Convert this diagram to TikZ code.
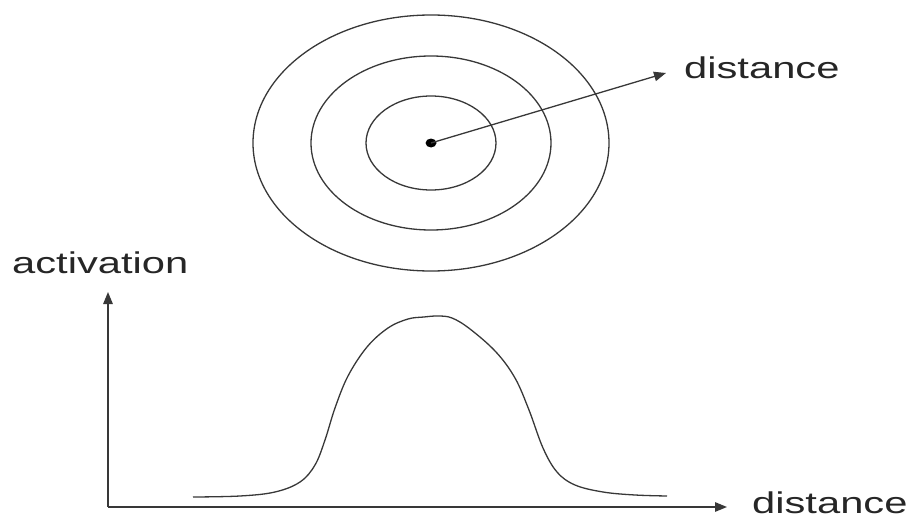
\documentclass[tikz,border=0pt]{standalone}
\usepackage{fontspec}
\newfontfamily\labfont[FakeStretch=1.39]{Liberation Sans}
\usetikzlibrary{arrows.meta}
\begin{document}
\begin{tikzpicture}[x=1pt,y=-1pt,
  ln/.style={line width=1.3pt, draw=black!78},
  arr/.style={ln, -{Triangle[length=12pt,width=9.5pt]}},
  lab/.style={anchor=base west, inner sep=0pt, font=\labfont\fontsize{30}{30}\selectfont, text=black!85}]
\useasboundingbox (0,0) rectangle (914,519);
% rings
\coordinate (c) at (431,143);
\draw[ln] (c) ellipse [x radius=178, y radius=128];
\draw[ln] (c) ellipse [x radius=120, y radius=87];
\draw[ln] (c) ellipse [x radius=65, y radius=47];
\fill[black] (c) circle [x radius=5.5, y radius=4.5];
\coordinate (tip1) at (666,73);
\draw[arr] (c) -- (tip1);
\node[lab] (d1) at (684,79) {distance};
% axes
\coordinate (o) at (108,507);
\coordinate (ytip) at (108,292);
\coordinate (xtip) at (727,507);
\draw[arr] (o) -- (ytip);
\draw[arr] (o) -- (xtip);
\node[lab] (act) at (12,273) {activation};
\node[lab] (d2) at (752,513) {distance};
% activation curve
\draw[ln] plot[smooth, tension=0.6] coordinates {
 (193,497) (240,496) (275,492) (300,482) (315,465) (325,440) (335,408)
 (348,376) (367,347) (388,328) (408,319) (424,317) (438,316) (452,318)
 (470,329) (496,352) (515,378) (529,410) (543,448) (557,472) (575,485) (603,492)
 (635,495) (667,496)};
\end{tikzpicture}
\end{document}
